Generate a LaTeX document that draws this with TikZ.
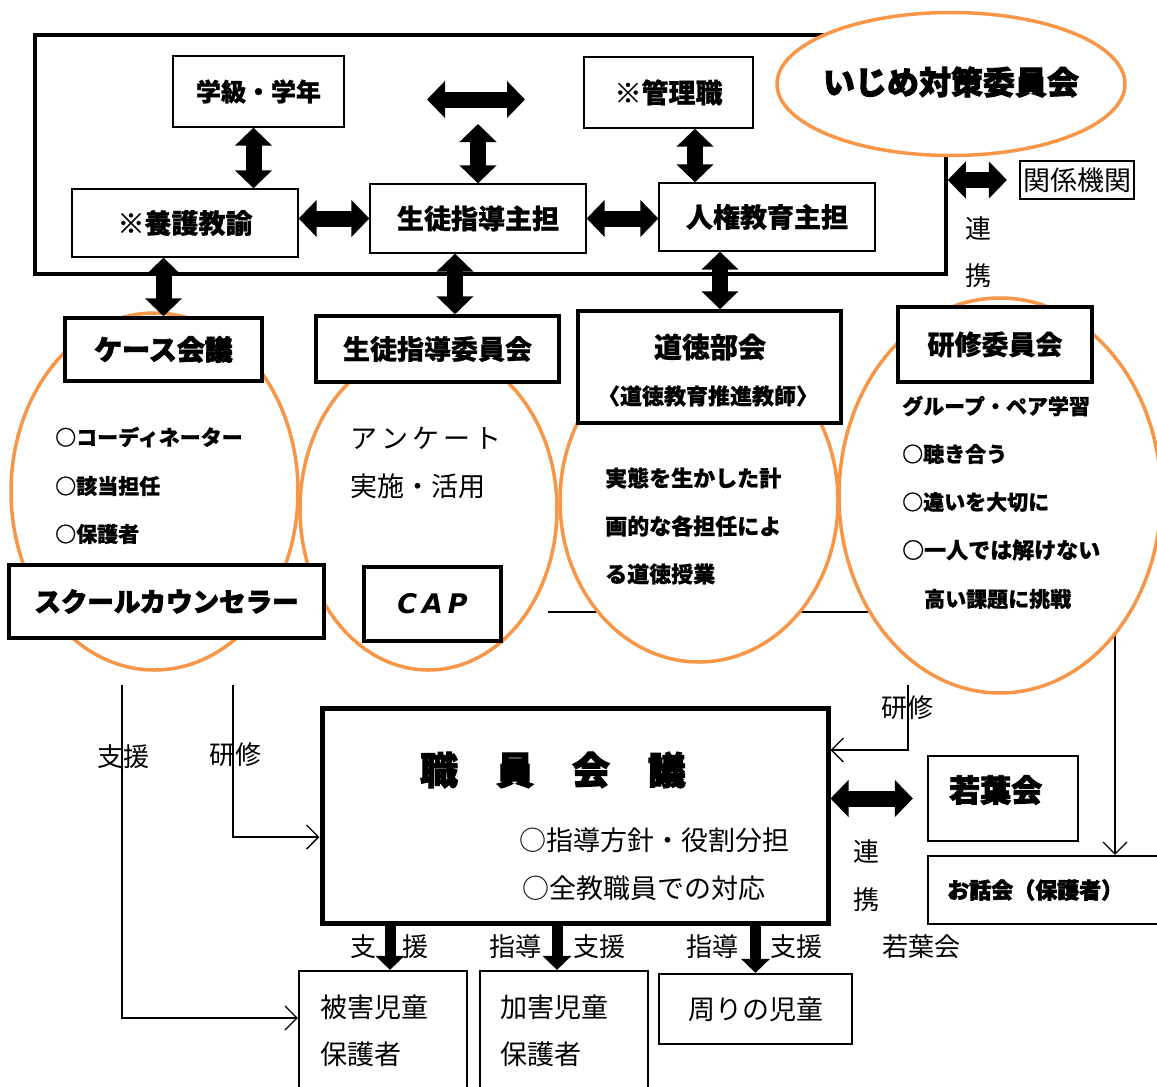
\documentclass[tikz,border=0pt]{standalone}
\usepackage{fontspec}
\setmainfont{Noto Sans CJK JP}[BoldFeatures={FakeBold=0.8}]
\newfontfamily\heavy{Noto Sans CJK JP}[BoldFeatures={FakeBold=2.6}]
\newfontfamily\capfont{DejaVu Sans}
\usetikzlibrary{arrows.meta,shapes.geometric}
\definecolor{org}{RGB}{247,150,70}
\newcommand{\fsz}[1]{\fontsize{#1pt}{#1pt}\selectfont}
\begin{document}
\begin{tikzpicture}[x=1pt,y=-1pt,
 thinbox/.style={draw,line width=1.3pt,fill=white,inner sep=0pt},
 midbox/.style={draw,line width=2.2pt,fill=white,inner sep=0pt},
 thickbox/.style={draw,line width=3.5pt,fill=white,inner sep=0pt},
 oval/.style={draw=org,line width=3.5pt,fill=white,ellipse,inner sep=0pt},
 fat/.style={line width=16pt,{Triangle[width=36pt,length=18pt]}-{Triangle[width=36pt,length=18pt]}},
 downfat/.style={line width=11pt,-{Triangle[width=28pt,length=14pt]}},
 thinarr/.style={line width=1.3pt,-{Straight Barb[length=12pt,width=24pt]}},
 lbl/.style={inner sep=0pt,anchor=center},
 lblw/.style={inner sep=0pt,anchor=west},
]
\useasboundingbox (0,0) rectangle (1157,1087);

% outer frame
\node[draw,line width=3.5pt,inner sep=0pt,minimum width=911pt,minimum height=239pt] (outer) at (490.5,154.5) {};
% main ellipse
\node[oval,minimum width=348pt,minimum height=143pt] (ijime) at (951,84) {};
\node[lbl,font=\heavy\bfseries\fsz{32}] (ijimeT) at (951,82) {いじめ対策委員会};

% top boxes
\node[thinbox,minimum width=171pt,minimum height=71pt,font=\bfseries\fsz{25}] (gakkyu) at (258.5,91.5) {学級・学年};
\node[thinbox,minimum width=169pt,minimum height=71pt,font=\bfseries\fsz{27}] (kanri) at (668.5,92.5) {※管理職};
\node[thinbox,minimum width=226pt,minimum height=68pt,font=\bfseries\fsz{27}] (yogo) at (185,223) {※養護教諭};
\node[thinbox,minimum width=216pt,minimum height=69pt,font=\bfseries\fsz{27}] (seito) at (478,218.5) {生徒指導主担};
\node[thinbox,minimum width=216pt,minimum height=68pt,font=\bfseries\fsz{27}] (jinken) at (767,217) {人権教育主担};
\node[midbox,minimum width=114pt,minimum height=38pt,font=\fsz{27}] (kankei) at (1077,180) {関係機関};

\coordinate (h1a) at (427,99.5);
\coordinate (h1b) at (525,99.5);
\coordinate (v1) at (478,124);
\draw[fat] (h1a) -- (h1b);
\draw[fat] (v1) -- (seito.north);
\draw[fat] ([xshift=-5pt]gakkyu.south) -- ([xshift=-5pt]gakkyu.south |- yogo.north);
\draw[fat] (yogo.east |- seito.west) -- (seito.west);
\draw[fat] (seito.east) -- (seito.east -| jinken.west);
\draw[fat] ([xshift=26.5pt]kanri.south) -- ([xshift=26.5pt]kanri.south |- jinken.north);
\draw[fat] (outer.east |- kankei.west) -- ([xshift=-12pt]kankei.west);
\node[lbl,font=\fsz{26}] (ren1) at (978,229) {連};
\node[lbl,font=\fsz{26}] (kei1) at (978,276) {携};

% lower-right boxes (drawn before lines)
\node[midbox,minimum width=150pt,minimum height=85pt] (wakaba) at (1003,798.5) {};
\node[lblw,font=\heavy\bfseries\fsz{31}] (wakabaT) at (949,790) {若葉会};
\node[midbox,minimum width=242pt,minimum height=68pt] (ohanashi) at (1049,890) {};
\node[lblw,font=\heavy\bfseries\fsz{22}] (ohanashiT) at (947,890) {お話会（保護者）};

% lines hidden partly by ellipses
\coordinate (hl1) at (548,612);
\coordinate (hl2) at (868,612);
\draw[line width=1.3pt] (hl1) -- (hl2);
\coordinate (ohaTop) at (1115,560);
\draw[thinarr] (ohaTop) -- (ohaTop |- ohanashi.north);

% ellipses
\node[oval,minimum width=287pt,minimum height=357pt] (ov1) at (154.5,491.5) {};
\node[oval,minimum width=257pt,minimum height=322pt] (ov2) at (428.5,509) {};
\node[oval,minimum width=278pt,minimum height=322pt] (ov3) at (699,501) {};
\node[oval,minimum width=322pt,minimum height=395pt] (ov4) at (1000,495.5) {};

% committee boxes
\node[thickbox,minimum width=197pt,minimum height=63pt,font=\heavy\bfseries\fsz{28}] (case) at (163.5,349.5) {ケース会議};
\node[thickbox,minimum width=243pt,minimum height=66pt,font=\bfseries\fsz{27}] (seitoi) at (437.5,349) {生徒指導委員会};
\node[thickbox,minimum width=263pt,minimum height=112pt] (dotoku) at (709.5,367) {};
\node[lbl,font=\bfseries\fsz{28}] (dotokuT) at (710,347) {道徳部会};
\node[lbl,font=\bfseries\fsz{22}] (dotokuS) at (708,396) {〈道徳教育推進教師〉};
\node[thickbox,minimum width=194pt,minimum height=75pt,font=\bfseries\fsz{27}] (kenshu) at (995,344.5) {研修委員会};
\node[thickbox,minimum width=315pt,minimum height=73pt,font=\heavy\bfseries\fsz{26.5}] (sc) at (166.5,601.5) {スクールカウンセラー};
\node[thickbox,minimum width=137pt,minimum height=74pt,font=\capfont\bfseries\itshape\fsz{27}] (cap) at (432.5,604) {C\hspace{5pt}A\hspace{5pt}P};

% arrows top -> committees
\draw[fat] (case.north |- yogo.south) -- (case.north);
\draw[fat] ([xshift=-23pt]seito.south) -- ([xshift=-23pt]seito.south |- seitoi.north);
\draw[fat] ([xshift=-47pt]jinken.south) -- ([xshift=-47pt]jinken.south |- dotoku.north);

% ellipse texts
\node[lblw,font=\bfseries\fsz{21}] (c1) at (55,437) {○コーディネーター};
\node[lblw,font=\bfseries\fsz{21}] (c2) at (55,486) {○該当担任};
\node[lblw,font=\bfseries\fsz{21}] (c3) at (55,534) {○保護者};
\node[lblw,font=\fsz{27}] (s1) at (350,438) {ア\hspace{4pt}ン\hspace{4pt}ケ\hspace{4pt}ー\hspace{4pt}ト};
\node[lblw,font=\fsz{27}] (s2) at (350,486) {実施・活用};
\node[lblw,font=\bfseries\fsz{22}] (d1) at (605,478) {実態を生かした計};
\node[lblw,font=\bfseries\fsz{22}] (d2) at (605,526) {画的な各担任によ};
\node[lblw,font=\bfseries\fsz{22}] (d3) at (605,574) {る道徳授業};
\node[lblw,font=\bfseries\fsz{21}] (k1) at (902,406) {グループ・ペア学習};
\node[lblw,font=\bfseries\fsz{21}] (k2) at (902,454) {○聴き合う};
\node[lblw,font=\bfseries\fsz{21}] (k3) at (902,502) {○違いを大切に};
\node[lblw,font=\bfseries\fsz{22}] (k4) at (902,550) {○一人では解けない};
\node[lblw,font=\bfseries\fsz{21}] (k5) at (924,599) {高い課題に挑戦};

% staff meeting
\node[draw,line width=5pt,fill=white,inner sep=0pt,minimum width=506pt,minimum height=215pt] (shokuin) at (575,815.5) {};
\node[lbl,font=\heavy\bfseries\fsz{38}] (shokuinT) at (553,770) {職　員　会　議};
\node[lbl,font=\fsz{27}] (sh1) at (654,840) {○指導方針・役割分担};
\node[lbl,font=\fsz{27}] (sh2) at (644,888) {○全教職員での対応};

% bottom boxes
\node[midbox,minimum width=168pt,minimum height=129pt] (higai) at (383,1035.5) {};
\node[lblw,font=\fsz{27}] (hg1) at (320,1007) {被害児童};
\node[lblw,font=\fsz{27}] (hg2) at (320,1054) {保護者};
\node[midbox,minimum width=168pt,minimum height=129pt] (kagai) at (564,1035.5) {};
\node[lblw,font=\fsz{27}] (kg1) at (500,1007) {加害児童};
\node[lblw,font=\fsz{27}] (kg2) at (500,1054) {保護者};
\node[midbox,minimum width=193pt,minimum height=70pt,font=\fsz{27}] (mawari) at (755.5,1009) {周りの児童};

% down arrows
\draw[downfat] ([xshift=7pt]higai.north |- shokuin.south) -- ([xshift=7pt]higai.north);
\draw[downfat] ([xshift=-7pt]kagai.north |- shokuin.south) -- ([xshift=-7pt]kagai.north);
\draw[downfat] (mawari.north |- shokuin.south) -- (mawari.north);
\node[lbl,font=\fsz{26}] (l1) at (389,947) {支　援};
\node[lbl,font=\fsz{26}] (l2) at (515,947) {指導};
\node[lbl,font=\fsz{26}] (l3) at (599,947) {支援};
\node[lbl,font=\fsz{26}] (l4) at (712,947) {指導};
\node[lbl,font=\fsz{26}] (l5) at (796,947) {支援};
\node[lbl,font=\fsz{26}] (l6) at (921,947) {若葉会};

% staff meeting <-> wakaba
\draw[fat] (shokuin.east |- wakaba.west) -- ([xshift=-14pt]wakaba.west);
\node[lbl,font=\fsz{26}] (ren2) at (866,852) {連};
\node[lbl,font=\fsz{26}] (kei2) at (866,900) {携};

% thin arrows
\coordinate (sienTop) at (122,685);
\coordinate (sienBot) at (122,1018);
\draw[thinarr] (sienTop) -- (sienBot) -- (sienBot -| higai.west);
\coordinate (kenTop) at (233,685);
\coordinate (kenBot) at (233,837);
\draw[thinarr] (kenTop) -- (kenBot) -- (kenBot -| shokuin.west);
\coordinate (kenR1) at (908,685);
\coordinate (kenR2) at (908,750);
\draw[thinarr] (kenR1) -- (kenR2) -- (kenR2 -| shokuin.east);
\node[lbl,font=\fsz{26}] (ls1) at (123,757) {支援};
\node[lbl,font=\fsz{26}] (ls2) at (235,755) {研修};
\node[lbl,font=\fsz{26}] (ls3) at (907,708) {研修};
\end{tikzpicture}
\end{document}
